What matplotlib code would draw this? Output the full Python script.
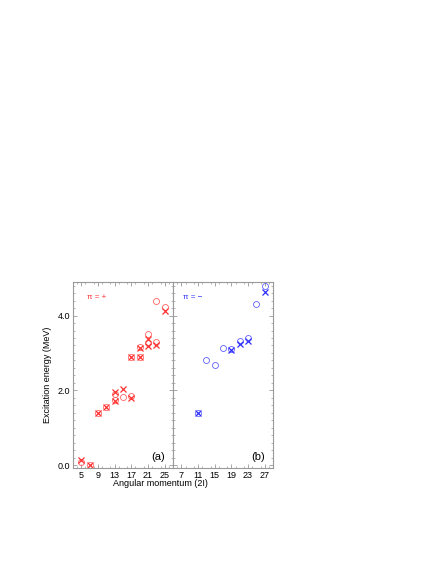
import matplotlib
matplotlib.use("Agg")
import matplotlib.pyplot as plt
from matplotlib.ticker import MultipleLocator

plt.rcParams['font.family'] = ['Liberation Sans', 'DejaVu Sans']

# positive parity (a): circles and crosses
pos_circ_j = [5, 7, 9, 11, 13, 13, 15, 17, 17, 19, 19, 21, 21, 23, 23, 25]
pos_circ_e = [0.09, 0.0, 1.39, 1.54, 1.91, 1.75, 1.83, 1.86, 2.90, 3.15, 2.90, 3.52, 3.28, 4.40, 3.30, 4.22]
pos_x_j = [5, 7, 9, 11, 13, 13, 15, 17, 17, 19, 19, 21, 21, 23, 25]
pos_x_e = [0.14, 0.0, 1.39, 1.54, 1.95, 1.72, 2.03, 1.80, 2.90, 3.14, 2.89, 3.37, 3.18, 3.20, 4.12]

# negative parity (b)
neg_circ_j = [11, 13, 15, 17, 19, 21, 23, 25, 27]
neg_circ_e = [1.39, 2.82, 2.68, 3.12, 3.10, 3.32, 3.40, 4.32, 4.78]
neg_x_j = [11, 19, 21, 23, 27]
neg_x_e = [1.40, 3.07, 3.25, 3.32, 4.64]

fig = plt.figure(figsize=(4.36, 5.64), dpi=100)
ax1 = fig.add_axes([0.1674, 0.1702, 0.2294, 0.3298])
ax2 = fig.add_axes([0.3968, 0.1702, 0.2294, 0.3298])

frame = '#999999'

def style(ax, xlim, xticks):
    ax.set_xlim(*xlim)
    ax.set_ylim(-0.08, 4.9)
    ax.set_xticks(xticks)
    ax.xaxis.set_minor_locator(MultipleLocator(2))
    ax.set_yticks([0, 2, 4])
    ax.yaxis.set_minor_locator(MultipleLocator(0.2))
    ax.tick_params(which='both', direction='in', top=True, right=True,
                   color=frame, labelsize=6.5, pad=2)
    ax.tick_params(which='major', length=3, width=0.6)
    ax.tick_params(which='minor', length=1.5, width=0.5)
    for s in ax.spines.values():
        s.set_color(frame)
        s.set_linewidth(0.8)

style(ax1, (3, 27), [5, 9, 13, 17, 21, 25])
style(ax2, (5, 29), [7, 11, 15, 19, 23, 27])
ax1.set_yticklabels(['0.0', '2.0', '4.0'])
ax2.set_yticklabels([])

red = '#ff3030'
blue = '#3030ff'
ax1.plot(pos_circ_j, pos_circ_e, 'o', ms=4.3, mfc='none', mec='#ff6060', mew=0.6, ls='none')
ax1.plot(pos_x_j, pos_x_e, 'x', ms=4, mec=red, mew=0.9, ls='none')
ax2.plot(neg_circ_j, neg_circ_e, 'o', ms=4.3, mfc='none', mec='#6060ff', mew=0.6, ls='none')
ax2.plot(neg_x_j, neg_x_e, 'x', ms=4, mec=blue, mew=0.9, ls='none')

ax1.text(0.14, 0.915, 'π = +', transform=ax1.transAxes, color=red, fontsize=5.8, va='center')
ax2.text(0.1, 0.915, 'π = −', transform=ax2.transAxes, color=blue, fontsize=5.8, va='center')
ax1.text(0.92, 0.06, '(a)', transform=ax1.transAxes, fontsize=8, ha='right', va='center')
ax2.text(0.92, 0.06, '(b)', transform=ax2.transAxes, fontsize=8, ha='right', va='center')

ax1.set_ylabel('Excitation energy (MeV)', fontsize=6.5, labelpad=4)
fig.text(0.367, 0.142, 'Angular momentum (2I)', fontsize=6.5, ha='center', va='center')

fig.savefig('out.png', dpi=100)
